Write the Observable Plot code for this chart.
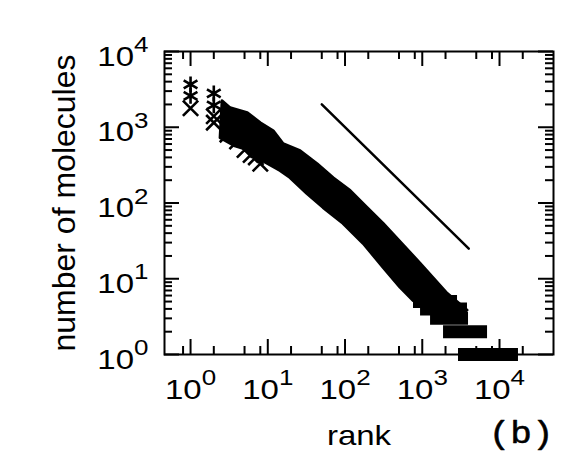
<!DOCTYPE html>
<html>
<head>
<meta charset="utf-8">
<script src="https://cdn.jsdelivr.net/npm/d3@7"></script>
<script src="https://cdn.jsdelivr.net/npm/@observablehq/plot@0.6"></script>
<style>
  html, body { margin: 0; padding: 0; background: #ffffff; }
  #chart { width: 573px; height: 460px; }
</style>
</head>
<body>
<div id="chart"></div>
<script>
// ---- data ----
// isolated markers at the top ranks
const asteriskRank  = [1, 1, 2, 2];
const asteriskCount = [3680, 2600, 2800, 1950];
const timesRank  = [1, 2, 2, 3, 4, 5, 6, 7, 8];
const timesCount = [1780, 1400, 1150, 800, 650, 500, 430, 400, 330];

// dense band of points (upper and lower envelope)
const bandTopRank   = [2.6, 3.3, 5.5, 8.1, 11.9, 16, 26.5, 44, 71, 118, 196, 315, 950, 2120, 3850];
const bandTopCount  = [2200, 1780, 1530, 1130, 886, 597, 483, 326, 213, 144, 86, 53, 15.8, 6.35, 3.8];
const bandLowRank   = [2.45, 3.8, 6.0, 7.4, 14.6, 19.7, 32.7, 52.7, 95.6, 174, 315, 523, 771, 1280, 2120];
const bandLowCount  = [716, 560, 483, 391, 264, 213, 131, 86, 53, 28.9, 14, 7.6, 5.1, 3.8, 3.0];

// tail: rows of points at small integer counts (rank extent per count)
const tailCount   = [1, 2, 3, 4, 5];
const tailRankMin = [2945, 1885, 1280, 950, 770];
const tailRankMax = [17600, 7000, 3970, 3850, 2860];

// reference power-law line (slope -1)
const zipfRank  = [50, 4000];
const zipfCount = [2000, 25];

// ticks
const xMajorTicks = [1, 10, 100, 1000, 10000];
const xMinorTicks = [0.8, 2, 5, 8, 20, 50, 80, 200, 500, 800, 2000, 5000, 8000, 20000];
const yMajorTicks = [1, 10, 100, 1000, 10000];
const yMinorTicks = [2,3,4,5,6,7,8,9, 20,30,40,50,60,70,80,90, 200,300,400,500,600,700,800,900, 2000,3000,4000,5000,6000,7000,8000,9000];

const xLabel = "rank";
const yLabel = "number of molecules";
const panelLabel = "(b)";

// ---- build tables ----
const asterisks = asteriskRank.map((r, i) => ({r, c: asteriskCount[i]}));
const crosses = timesRank.map((r, i) => ({r, c: timesCount[i]}));
const band = bandTopRank.map((r, i) => ({tr: r, tc: bandTopCount[i], lr: bandLowRank[i], lc: bandLowCount[i]}));
const tail = tailCount.map((c, i) => ({c, r1: tailRankMin[i], r2: tailRankMax[i]}));
const zipf = zipfRank.map((r, i) => ({r, c: zipfCount[i]}));

const W = 573, H = 460;
const mL = 164, mR = 20, mT = 51, mB = 106;
const pw = W - mL - mR, ph = H - mT - mB;
const major = 15, minor = 8;
const sans = "'Liberation Sans', Arial, Helvetica, sans-serif";
const squashK = 0.85;
const powLabel = d => "10^" + Math.round(Math.log10(d));

const chart = Plot.plot({
  width: W,
  height: H,
  marginLeft: mL,
  marginRight: mR,
  marginTop: mT,
  marginBottom: mB,
  style: {fontFamily: sans, fontSize: "33px", color: "black", background: "white", overflow: "visible"},
  x: {type: "log", domain: [0.46, 50000], axis: null},
  y: {type: "log", domain: [1, 10000], axis: null},
  marks: [
    Plot.frame({stroke: "black", strokeWidth: 2}),
    // inward ticks, bottom & top
    Plot.ruleX(xMajorTicks, {x: d => d, insetTop: ph - major, stroke: "black", strokeWidth: 2}),
    Plot.ruleX(xMinorTicks, {x: d => d, insetTop: ph - minor, stroke: "black", strokeWidth: 2}),
    Plot.ruleX(xMajorTicks, {x: d => d, insetBottom: ph - major, stroke: "black", strokeWidth: 2}),
    Plot.ruleX(xMinorTicks, {x: d => d, insetBottom: ph - minor, stroke: "black", strokeWidth: 2}),
    // inward ticks, left & right
    Plot.ruleY(yMajorTicks, {y: d => d, insetRight: pw - major, stroke: "black", strokeWidth: 2}),
    Plot.ruleY(yMinorTicks, {y: d => d, insetRight: pw - minor, stroke: "black", strokeWidth: 2}),
    Plot.ruleY(yMajorTicks, {y: d => d, insetLeft: pw - major, stroke: "black", strokeWidth: 2}),
    Plot.ruleY(yMinorTicks, {y: d => d, insetLeft: pw - minor, stroke: "black", strokeWidth: 2}),
    // tick labels (placed by the scales at the tick values)
    Plot.text(xMajorTicks, {x: d => d, frameAnchor: "bottom", textAnchor: "middle", lineAnchor: "bottom",
      dy: 44, text: powLabel, fontSize: 33, fill: "black"}),
    Plot.text(yMajorTicks, {y: d => d, frameAnchor: "left", textAnchor: "end", lineAnchor: "bottom",
      dx: -16, dy: 14, text: powLabel, fontSize: 33, fill: "black"}),
    // data
    Plot.area(band, {x1: "lr", y1: "lc", x2: "tr", y2: "tc", fill: "black", stroke: "black", strokeWidth: 3}),
    Plot.ruleY(tail, {y: "c", x1: "r1", x2: "r2", stroke: "black", strokeWidth: 13}),
    Plot.dot(asterisks, {x: "r", y: "c", symbol: "asterisk", r: 7.5, stroke: "black", strokeWidth: 2.6}),
    Plot.dot(crosses, {x: "r", y: "c", symbol: "times", r: 7, stroke: "black", strokeWidth: 2.6}),
    Plot.line(zipf, {x: "r", y: "c", stroke: "black", strokeWidth: 2.5}),
    // axis titles
    Plot.text([xLabel], {frameAnchor: "bottom", textAnchor: "middle", lineAnchor: "bottom", dy: 90,
      fontSize: 33, fill: "black"}),
    Plot.text([yLabel], {frameAnchor: "left", textAnchor: "middle", rotate: -90, dx: -100, fontSize: 32, fill: "black"}),
    Plot.text([panelLabel], {frameAnchor: "bottom-right", textAnchor: "end", lineAnchor: "bottom", dx: 0, dy: 88,
      fontSize: 36, fontFamily: "'Liberation Mono', 'Courier New', monospace", fill: "black",
      stroke: "black", strokeWidth: 0.6})
  ]
});

// the reference's horizontal lettering is slightly compressed vertically:
// append a vertical scale about each text's own anchor
function squash(t, k) {
  const tr = t.getAttribute("transform") || "";
  t.setAttribute("transform", (tr + ` scale(1,${k})`).trim());
}

chart.querySelectorAll("text").forEach(t => {
  const s = t.textContent || "";
  const m = s.match(/^10\^(-?\d+)$/);
  if (m) {
    squash(t, squashK);
    // superscript exponent
    t.textContent = "10";
    const ts = document.createElementNS("http://www.w3.org/2000/svg", "tspan");
    ts.setAttribute("dy", "-15.6");
    ts.setAttribute("font-size", "26");
    ts.textContent = m[1];
    t.appendChild(ts);
  } else if (s === xLabel || s === panelLabel) {
    squash(t, squashK);
  }
});

document.getElementById("chart").appendChild(chart);
</script>
</body>
</html>
